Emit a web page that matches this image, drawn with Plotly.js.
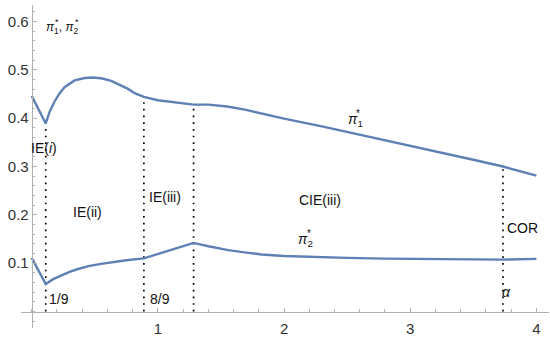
<!DOCTYPE html>
<html>
<head>
<meta charset="utf-8">
<script src="https://cdn.plot.ly/plotly-3.0.1.min.js"></script>
<style>html,body{margin:0;padding:0;background:#fff}#chart{width:550px;height:340px}</style>
</head>
<body>
<div id="chart"></div>
<script>
// pi1* (upper curve)
const pi1X = [0, 0.111, 0.14, 0.18, 0.22, 0.26, 0.34, 0.42, 0.49, 0.56, 0.63, 0.70, 0.76, 0.82, 0.889, 1.0, 1.15, 1.283, 1.4, 1.55, 1.7, 1.85, 2.0, 2.3, 2.6, 2.9, 3.2, 3.5, 3.735, 4.0];
const pi1Y = [0.446, 0.389, 0.412, 0.434, 0.451, 0.464, 0.478, 0.483, 0.484, 0.482, 0.477, 0.469, 0.461, 0.451, 0.444, 0.437, 0.432, 0.428, 0.428, 0.424, 0.417, 0.408, 0.399, 0.383, 0.366, 0.349, 0.332, 0.314, 0.300, 0.281];
// pi2* (lower curve)
const pi2X = [0, 0.111, 0.17, 0.235, 0.30, 0.367, 0.45, 0.55, 0.632, 0.75, 0.889, 1.08, 1.283, 1.4, 1.558, 1.7, 1.822, 2.0, 2.2, 2.5, 2.8, 3.1, 3.4, 3.735, 4.0];
const pi2Y = [0.111, 0.057, 0.067, 0.075, 0.082, 0.088, 0.094, 0.0985, 0.102, 0.106, 0.110, 0.126, 0.142, 0.135, 0.127, 0.122, 0.118, 0.115, 0.113, 0.111, 0.1095, 0.1085, 0.108, 0.1075, 0.109];
// regime boundaries (dotted lines) and their tops
const boundX = [1/9, 8/9, 1.283, 3.735];
const boundTop = [0.389, 0.444, 0.428, 0.300];
// tick labels
const xTicks = [1, 2, 3, 4];
const yTicks = [0.1, 0.2, 0.3, 0.4, 0.5, 0.6];

const blue = '#5E81B5';
const traces = [];
boundX.forEach((bx, i) => {
  traces.push({x: [bx, bx], y: [0, boundTop[i]], mode: 'lines', hoverinfo: 'skip',
    line: {color: '#000', width: 1.7, dash: '1.7px,5px'}, showlegend: false});
});
traces.push({x: pi1X, y: pi1Y, mode: 'lines', line: {color: blue, width: 2.4}, showlegend: false});
traces.push({x: pi2X, y: pi2Y, mode: 'lines', line: {color: blue, width: 2.4}, showlegend: false});

const F = 'Liberation Sans, Arial, sans-serif';
const ann = (text, x, y, opts) => Object.assign({text, x, y, xref: 'x', yref: 'y', showarrow: false,
  font: {family: F, size: 14, color: '#111'}}, opts || {});
const star = (x, y, xs, ys, size) => ann('*', x, y, {xshift: xs, yshift: ys, font: {family: F, size: size, color: '#111'}});

const xr = [-0.085, 4.10], yr = [-0.034, 0.634];
const layout = {
  width: 550, height: 340,
  margin: {l: 21, r: 1, t: 5, b: 12},
  paper_bgcolor: '#fff', plot_bgcolor: '#fff',
  xaxis: {range: xr, anchor: 'free', position: (0 - yr[0]) / (yr[1] - yr[0]),
    showgrid: false, zeroline: false, showline: true, linecolor: '#b0b0b0', linewidth: 1,
    tickmode: 'array', tickvals: xTicks, ticks: 'inside', ticklen: 4, tickcolor: '#b0b0b0',
    ticklabelstandoff: 3,
    minor: {tickmode: 'linear', tick0: 0, dtick: 0.2, ticks: 'inside', ticklen: 2.5, tickcolor: '#b0b0b0'},
    tickfont: {family: F, size: 15, color: '#333'}},
  yaxis: {range: yr, anchor: 'free', position: (0 - xr[0]) / (xr[1] - xr[0]),
    showgrid: false, zeroline: false, showline: true, linecolor: '#b0b0b0', linewidth: 1,
    tickmode: 'array', tickvals: yTicks, ticks: 'inside', ticklen: 4, tickcolor: '#b0b0b0',
    minor: {tickmode: 'linear', tick0: 0, dtick: 0.02, ticks: 'inside', ticklen: 2.5, tickcolor: '#b0b0b0'},
    tickfont: {family: F, size: 15, color: '#333'}},
  annotations: [
    ann('<i>π</i><sub>1</sub>, <i>π</i><sub>2</sub>', 0.237, 0.586, {font: {family: F, size: 12, color: '#111'}}),
    star(0.237, 0.586, -5, 6, 9),
    star(0.237, 0.586, 15, 6, 9),
    ann('IE(<i>i</i>)', 0.094, 0.338),
    ann('IE(ii)', 0.439, 0.206),
    ann('IE(iii)', 1.058, 0.237),
    ann('CIE(iii)', 2.288, 0.231),
    ann('COR', 3.891, 0.173),
    ann('1/9', 0.122, 0.026, {xanchor: 'left'}),
    ann('8/9', 0.923, 0.026, {xanchor: 'left'}),
    ann('<i>α</i>', 3.765, 0.041),
    ann('<i>π</i><sub>1</sub>', 2.566, 0.396),
    star(2.566, 0.396, 3, 7, 10),
    ann('<i>π</i><sub>2</sub>', 2.173, 0.148),
    star(2.173, 0.148, 3, 7, 10)
  ]
};
Plotly.newPlot('chart', traces, layout, {displayModeBar: false, staticPlot: true});
</script>
</body>
</html>
